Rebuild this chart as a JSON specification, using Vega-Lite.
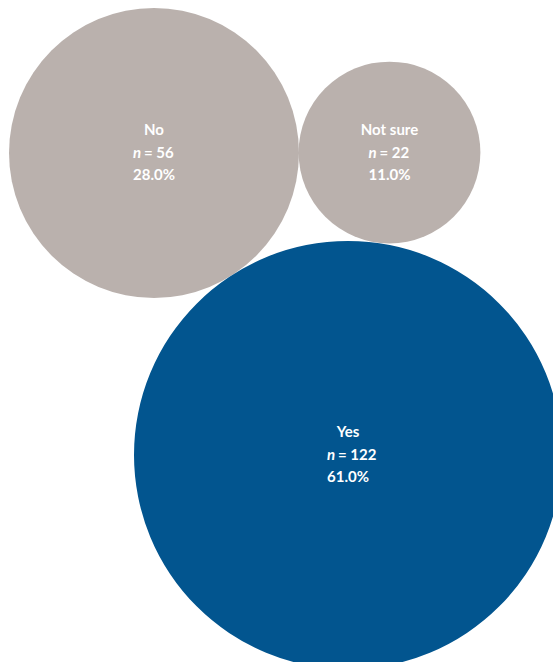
{
  "$schema": "https://vega.github.io/schema/vega-lite/v6.json",
  "width": 553,
  "height": 662,
  "autosize": "none",
  "padding": 0,
  "background": "white",
  "config": {"view": {"stroke": null}},
  "data": {
    "values": [
      {"answer": "No", "n": 56, "nText": "= 56", "share": 0.28, "col": 154, "row": 153},
      {"answer": "Not sure", "n": 22, "nText": "= 22", "share": 0.11, "col": 389.5, "row": 152.5},
      {"answer": "Yes", "n": 122, "nText": "= 122", "share": 0.61, "col": 348, "row": 455}
    ]
  },
  "encoding": {
    "x": {"field": "col", "type": "quantitative", "scale": {"domain": [0, 553], "nice": false, "zero": false}, "axis": null},
    "y": {"field": "row", "type": "quantitative", "scale": {"domain": [0, 662], "nice": false, "zero": false, "reverse": true}, "axis": null}
  },
  "layer": [
    {
      "mark": {"type": "point", "shape": "circle", "filled": true, "opacity": 1, "strokeWidth": 0},
      "encoding": {
        "size": {"field": "n", "type": "quantitative", "scale": {"type": "linear", "domain": [0, 122], "range": [0, 183184], "zero": true}, "legend": null},
        "color": {"field": "answer", "type": "nominal", "scale": {"domain": ["No", "Not sure", "Yes"], "range": ["#bab1ad", "#bab1ad", "#02558f"]}, "legend": null}
      }
    },
    {
      "mark": {"type": "text", "font": "Lato", "fontWeight": "bold", "fontSize": 15, "color": "white", "baseline": "middle", "align": "center", "dy": -23},
      "encoding": {"text": {"field": "answer", "type": "nominal"}}
    },
    {
      "mark": {"type": "text", "font": "Lato", "fontStyle": "italic", "fontWeight": "bold", "fontSize": 15, "color": "white", "baseline": "middle", "align": "right", "dy": 0, "dx": -13},
      "encoding": {"text": {"value": "n"}}
    },
    {
      "mark": {"type": "text", "font": "Lato", "fontWeight": "bold", "fontSize": 15, "color": "white", "baseline": "middle", "align": "left", "dy": 0, "dx": -10},
      "encoding": {"text": {"field": "nText", "type": "nominal"}}
    },
    {
      "mark": {"type": "text", "font": "Lato", "fontWeight": "bold", "fontSize": 15, "color": "white", "baseline": "middle", "align": "center", "dy": 22},
      "encoding": {"text": {"field": "share", "type": "quantitative", "format": ".1%"}}
    }
  ]
}
